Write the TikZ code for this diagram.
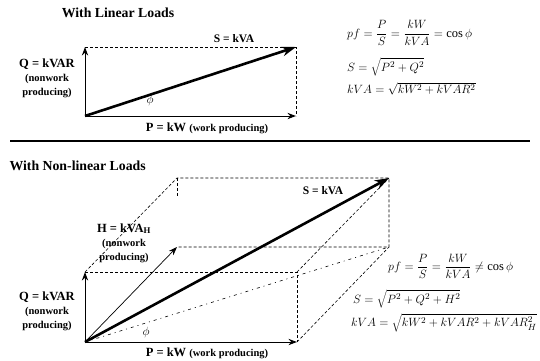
\documentclass[tikz,border=0pt]{standalone}
\usepackage{fontspec}
\setmainfont{Liberation Serif}
\usetikzlibrary{arrows.meta}
\newcommand{\subsize}{\fontsize{10.5}{12.5}\selectfont}

\begin{document}
\begin{tikzpicture}[
  x=1pt, y=-1pt,
  title/.style={font=\bfseries\fontsize{13.8}{16}\selectfont},
  lbl/.style={font=\bfseries\fontsize{12.5}{14}\selectfont, align=center},
  eqn/.style={font=\fontsize{12.5}{15}\selectfont, anchor=west, inner sep=0pt},
  angle/.style={font=\fontsize{13}{15}\selectfont},
  vec/.style={-{Stealth[length=3mm, width=2.2mm]}, line width=1pt},
  bigvec/.style={-{Stealth[length=5mm, width=3.4mm]}, line width=2.6pt},
  guide/.style={densely dashed, line width=0.6pt},
  rule/.style={line width=1.6pt},
]
  \useasboundingbox (0,0) rectangle (540,360);

  \node[title] (lintitle) at (118,13) {With Linear Loads};
  \coordinate (o1) at (85,116);
  \coordinate (p1) at (296,116);
  \coordinate (q1) at (85,47);
  \coordinate (s1) at (296,47);

  \draw[guide] (q1) -- (s1) -- (p1);
  \draw[vec] (o1) -- (q1);
  \draw[vec] (o1) -- (p1);
  \draw[bigvec] (o1) -- (s1);

  \node[lbl] (q1lab) at (47,78)
    {Q = kVAR\\\subsize(nonwork\\\subsize producing)};
  \node[lbl, font=\bfseries\fontsize{11.5}{13}\selectfont] (s1lab) at (234,39) {S = kVA};
  \node[lbl] (p1lab) at (207,128) {P = kW {\subsize(work producing)}};
  \node[angle] (phi1) at (150,100) {$\phi$};

  \node[eqn] (pf1) at (347,33) {$pf = \displaystyle\frac{P}{S} = \frac{kW}{kVA} = \cos\phi$};
  \node[eqn] (seq1) at (347,67) {$S = \sqrt{P^2 + Q^2}$};
  \node[eqn] (kva1) at (347,89) {$kVA = \sqrt{kW^2 + kVAR^2}$};

  \coordinate (ra) at (10,141);
  \coordinate (rb) at (530,141);
  \draw[rule] (ra) -- (rb);

  \node[title, anchor=west] (nltitle) at (6,166) {With Non-linear Loads};
  \coordinate (o2) at (85,342);
  \coordinate (p2) at (297,342);
  \coordinate (q2) at (85,272);
  \coordinate (h2) at (177,247);
  \coordinate (pq) at (297,272);
  \coordinate (ph) at (389,247);
  \coordinate (qh) at (177,178);
  \coordinate (s2) at (389,178);
  \coordinate (qhend) at (177,197);

  \draw[guide] (q2) -- (pq) -- (p2);
  \draw[guide] (q2) -- (qh) -- (s2) -- (ph) -- (h2);
  \draw[guide] (p2) -- (ph);
  \draw[guide] (pq) -- (s2);
  \draw[guide] (qh) -- (qhend);
  \draw[dash pattern=on 3pt off 4pt on 1pt off 4pt, line width=0.6pt] (o2) -- (ph);
  \draw[vec] (o2) -- (q2);
  \draw[vec] (o2) -- (p2);
  \draw[vec, line width=0.7pt] (o2) -- (h2);
  \draw[bigvec] (o2) -- (s2);

  \node[lbl] (q2lab) at (47,311)
    {Q = kVAR\\\subsize(nonwork\\\subsize producing)};
  \node[lbl] (h2lab) at (124,243)
    {H = kVA$_{\mathbf{H}}$\\\subsize(nonwork\\\subsize producing)};
  \node[lbl, font=\bfseries\fontsize{11.5}{13}\selectfont] (s2lab) at (323,191) {S = kVA};
  \node[lbl] (p2lab) at (207,353) {P = kW {\subsize(work producing)}};
  \node[angle] (phi2) at (146,332) {$\phi$};

  \node[eqn] (pf2) at (388,266) {$pf = \displaystyle\frac{P}{S} = \frac{kW}{kVA} \neq \cos\phi$};
  \node[eqn] (seq2) at (353,299) {$S = \sqrt{P^2 + Q^2 + H^2}$};
  \node[eqn] (kva2) at (351,323) {$kVA = \sqrt{kW^2 + kVAR^2 + kVAR_H^2}$};
\end{tikzpicture}
\end{document}
